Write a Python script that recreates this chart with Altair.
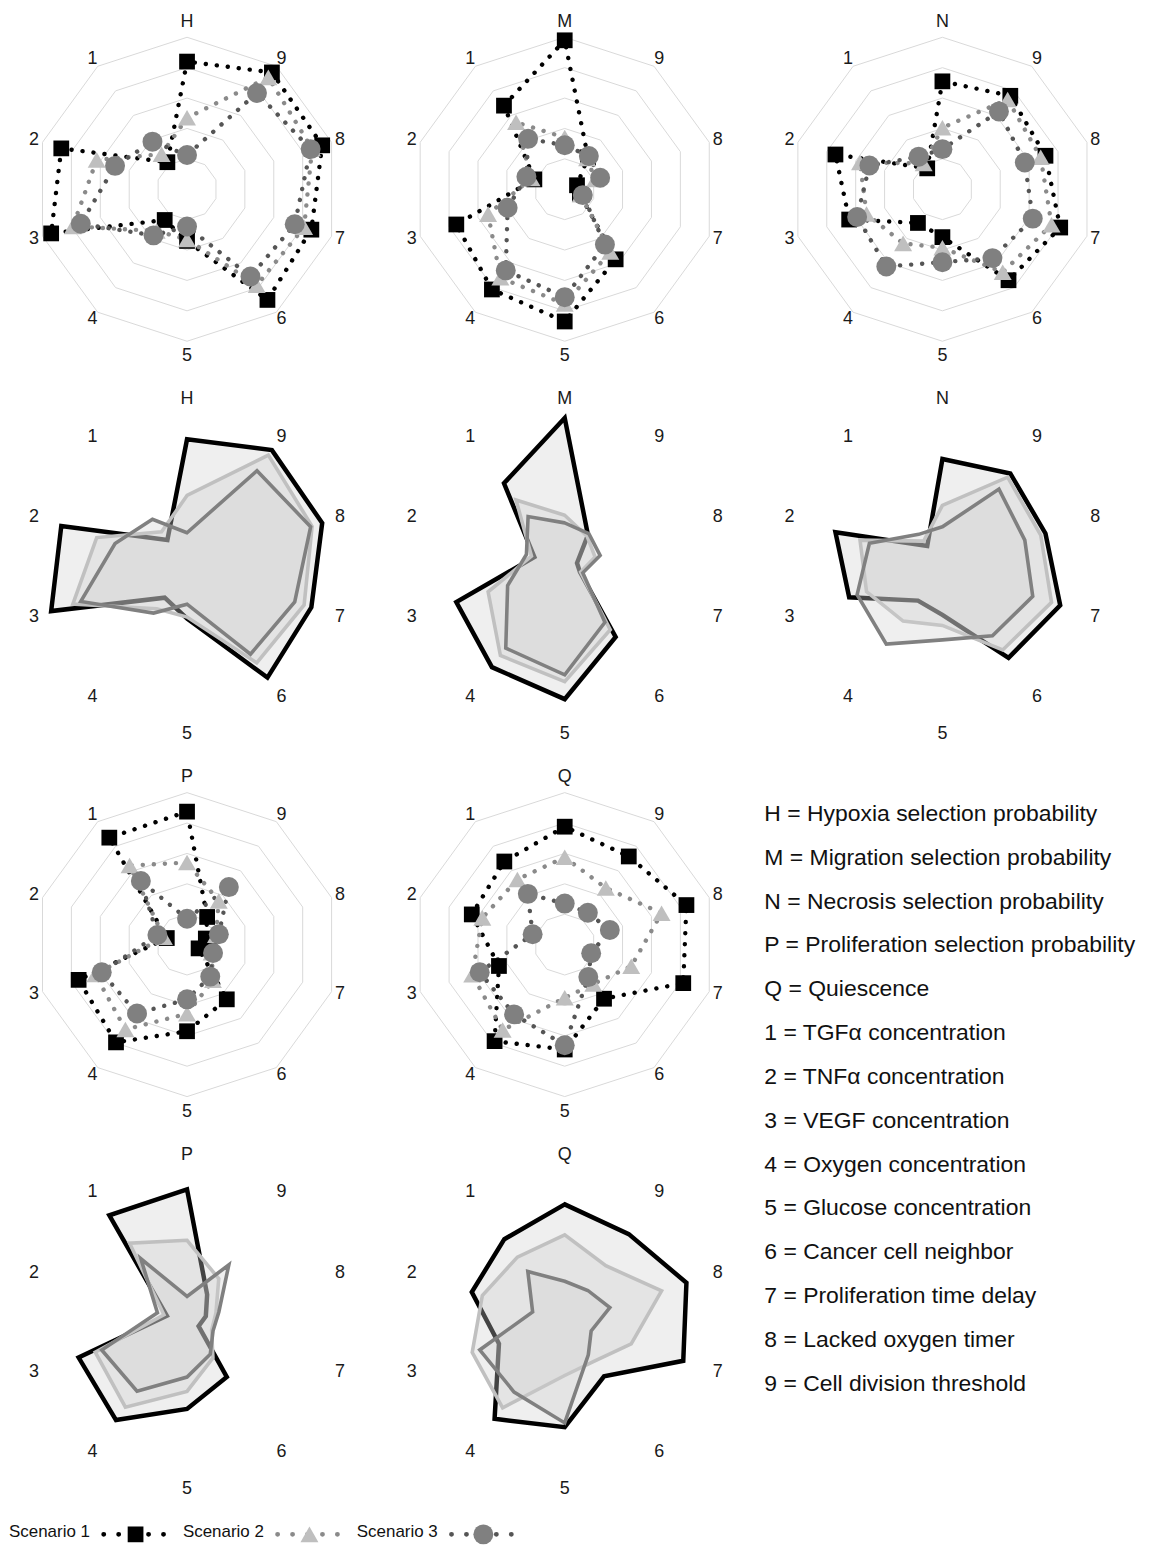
import altair as alt
import pandas as pd

# ---------------- data ----------------
PANELS = ["H", "M", "N", "P", "Q"]
SCENARIOS = [1, 2, 3]
SCEN_LABELS = ["Scenario 1", "Scenario 2", "Scenario 3"]
AXIS_NUMBERS = ["1", "2", "3", "4", "5", "6", "7", "8", "9"]
RINGS = [0.2, 0.4, 0.6, 0.8, 1.0]

# radial value (outer ring = 1); order: outcome axis (top), then parameters 1..9
H_S1 = [0.84, 0.22, 0.87, 0.94, 0.25, 0.34, 0.90, 0.86, 0.935, 0.95]
H_S2 = [0.47, 0.285, 0.625, 0.79, 0.34, 0.33, 0.78, 0.81, 0.865, 0.91]
H_S3 = [0.225, 0.387, 0.498, 0.735, 0.375, 0.245, 0.71, 0.745, 0.855, 0.783]
M_S1 = [0.98, 0.68, 0.21, 0.75, 0.815, 0.87, 0.57, 0.105, 0.085, 0.26]
M_S2 = [0.34, 0.545, 0.23, 0.53, 0.72, 0.755, 0.51, 0.11, 0.21, 0.25]
M_S3 = [0.29, 0.41, 0.265, 0.395, 0.66, 0.71, 0.45, 0.125, 0.245, 0.27]
N_S1 = [0.71, 0.17, 0.74, 0.645, 0.274, 0.315, 0.74, 0.815, 0.713, 0.76]
N_S2 = [0.405, 0.21, 0.57, 0.525, 0.44, 0.385, 0.675, 0.755, 0.68, 0.73]
N_S3 = [0.264, 0.265, 0.505, 0.59, 0.628, 0.48, 0.56, 0.625, 0.57, 0.633]
P_S1 = [0.875, 0.87, 0.14, 0.75, 0.795, 0.57, 0.445, 0.08, 0.13, 0.225]
P_S2 = [0.54, 0.643, 0.16, 0.635, 0.69, 0.455, 0.29, 0.17, 0.2, 0.355]
P_S3 = [0.17, 0.517, 0.205, 0.59, 0.56, 0.36, 0.26, 0.18, 0.22, 0.468]
Q_S1 = [0.776, 0.676, 0.643, 0.455, 0.785, 0.69, 0.44, 0.82, 0.842, 0.717]
Q_S2 = [0.575, 0.53, 0.57, 0.64, 0.695, 0.35, 0.32, 0.46, 0.67, 0.46]
Q_S3 = [0.27, 0.413, 0.222, 0.588, 0.567, 0.662, 0.264, 0.183, 0.312, 0.259]

VALUES = {
    "H": [H_S1, H_S2, H_S3],
    "M": [M_S1, M_S2, M_S3],
    "N": [N_S1, N_S2, N_S3],
    "P": [P_S1, P_S2, P_S3],
    "Q": [Q_S1, Q_S2, Q_S3],
}

LEGEND_LINES = [
    "H = Hypoxia selection probability",
    "M = Migration selection probability",
    "N = Necrosis selection probability",
    "P = Proliferation selection probability",
    "Q = Quiescence",
    "1 = TGF\u03b1 concentration",
    "2 = TNF\u03b1 concentration",
    "3 = VEGF concentration",
    "4 = Oxygen concentration",
    "5 = Glucose concentration",
    "6 = Cancer cell neighbor",
    "7 = Proliferation time delay",
    "8 = Lacked oxygen timer",
    "9 = Cell division threshold",
]

# ---------------- tables ----------------
rows = []
for p in PANELS:
    for s, vals in zip(SCENARIOS, VALUES[p]):
        for k, v in enumerate(vals):
            rows.append({"panel": p, "scen": s, "k": k, "r": v})
df = pd.DataFrame(rows)

grid_df = pd.DataFrame([{"ring": i, "k": k, "r": r} for i, r in enumerate(RINGS) for k in range(10)])

# ---------------- style ----------------
FONT = "Liberation Sans, Arial, sans-serif"
PW = 379
PH = 379
XS = alt.Scale(domain=[-1.178, 1.307], nice=False, zero=False)
YS = alt.Scale(domain=[-1.310, 1.175], nice=False, zero=False)
SC_DOM = SCENARIOS
DOT_COLORS = ["#000000", "#8a8a8a", "#555555"]
MARK_COLORS = ["#000000", "#bfbfbf", "#808080"]
LINE_COLORS = ["#000000", "#c0c0c0", "#808080"]
SHAPES = ["square", "triangle-up", "circle"]
SIZES = [250, 400, 290]


def polar(ch):
    return ch.transform_calculate(
        px="-datum.r*sin(datum.k*PI/5)",
        py="datum.r*cos(datum.k*PI/5)",
    )


def xy():
    return dict(x=alt.X("px:Q", scale=XS, axis=None),
                y=alt.Y("py:Q", scale=YS, axis=None))


def labels(p):
    lab = pd.DataFrame({"k": list(range(10)), "text": [p] + AXIS_NUMBERS})
    return polar(
        alt.Chart(lab).transform_calculate(
            r="datum.k==0?1.103:(datum.k==5?1.1:1.058)")
    ).mark_text(font=FONT, fontSize=18, color="#1a1a1a", align="center",
                baseline="middle").encode(text="text:N", **xy())


def dotted_panel(p):
    d = df[df.panel == p]
    grid = polar(alt.Chart(grid_df)).mark_line(
        interpolate="linear-closed", stroke="#d9d9d9", strokeWidth=1
    ).encode(detail="ring:N", order="k:Q", **xy())
    lines = polar(alt.Chart(d)).mark_line(
        interpolate="linear-closed", strokeDash=[0.1, 11], strokeCap="round", strokeWidth=4.4
    ).encode(
        stroke=alt.Stroke("scen:N", scale=alt.Scale(domain=SC_DOM, range=DOT_COLORS), legend=None),
        detail="scen:N", order="k:Q", **xy())
    pts = polar(alt.Chart(d)).mark_point(filled=True, opacity=1, strokeWidth=0).encode(
        fill=alt.Fill("scen:N", scale=alt.Scale(domain=SC_DOM, range=MARK_COLORS), legend=None),
        shape=alt.Shape("scen:N", scale=alt.Scale(domain=SC_DOM, range=SHAPES), legend=None),
        size=alt.Size("scen:N", scale=alt.Scale(domain=SC_DOM, range=SIZES), legend=None),
        **xy())
    return alt.layer(grid, lines, pts, labels(p)).properties(width=PW, height=PH)


def filled_panel(p):
    layers = []
    for s in SCENARIOS:
        d = df[(df.panel == p) & (df.scen == s)]
        layers.append(polar(alt.Chart(d)).mark_line(
            interpolate="linear-closed", fill="#cfcfcf", fillOpacity=0.33,
            stroke=LINE_COLORS[s - 1], strokeWidth=4.5 if s == 1 else 3.6,
            strokeJoin="miter"
        ).encode(order="k:Q", **xy()))
    layers.append(labels(p))
    return alt.layer(*layers).properties(width=PW, height=PH)


# right-hand text legend
txt_df = pd.DataFrame({"i": list(range(len(LEGEND_LINES))), "line": LEGEND_LINES})
text_panel = alt.Chart(txt_df).mark_text(
    font=FONT, fontSize=23, align="left", baseline="middle", color="#111111"
).encode(
    x=alt.value(1),
    y=alt.Y("i:Q", scale=alt.Scale(domain=[(2 * PH - 48) / 44.0, -48 / 44.0], nice=False, zero=False),
            axis=None),
    text="line:N",
).properties(width=395, height=2 * PH)

# bottom scenario legend
LX = alt.Scale(domain=[0, 760], nice=False, zero=False)
leg_df = pd.DataFrame({"i": [0, 1, 2], "scen": SCENARIOS, "label": SCEN_LABELS})
leg_line_df = pd.DataFrame({"i": [0, 0, 1, 1, 2, 2], "scen": [1, 1, 2, 2, 3, 3],
                            "end": [0, 1, 0, 1, 0, 1]})
leg_text = alt.Chart(leg_df).transform_calculate(tx="1+174.5*datum.i").mark_text(
    font=FONT, fontSize=17, align="left", baseline="middle", color="#111111"
).encode(x=alt.X("tx:Q", scale=LX, axis=None), y=alt.value(11), text="label:N")
leg_lines = alt.Chart(leg_line_df).transform_calculate(
    lx="128+174.5*datum.i+(datum.end==0?-32:29)"
).mark_line(strokeDash=[0.1, 14.9], strokeCap="round", strokeWidth=4.8).encode(
    x=alt.X("lx:Q", scale=LX, axis=None), y=alt.value(13),
    stroke=alt.Stroke("scen:N", scale=alt.Scale(domain=SC_DOM, range=DOT_COLORS), legend=None),
    detail="scen:N")
leg_pts = alt.Chart(leg_df).transform_calculate(mx="128+174.5*datum.i").mark_point(
    filled=True, opacity=1, strokeWidth=0
).encode(
    x=alt.X("mx:Q", scale=LX, axis=None), y=alt.value(13),
    fill=alt.Fill("scen:N", scale=alt.Scale(domain=SC_DOM, range=MARK_COLORS), legend=None),
    shape=alt.Shape("scen:N", scale=alt.Scale(domain=SC_DOM, range=SHAPES), legend=None),
    size=alt.Size("scen:N", scale=alt.Scale(domain=SC_DOM, range=[250, 360, 290]), legend=None))
bottom_legend = alt.layer(leg_lines, leg_pts, leg_text).properties(width=760, height=22)

row1 = alt.hconcat(dotted_panel("H"), dotted_panel("M"), dotted_panel("N"), spacing=0)
row2 = alt.hconcat(filled_panel("H"), filled_panel("M"), filled_panel("N"), spacing=0)
row3 = alt.hconcat(dotted_panel("P"), dotted_panel("Q"), spacing=0)
row4 = alt.hconcat(filled_panel("P"), filled_panel("Q"), spacing=0)
lower = alt.hconcat(alt.vconcat(row3, row4, spacing=0), text_panel, spacing=0)

chart = alt.vconcat(row1, row2, lower, bottom_legend, spacing=0).properties(
    padding=0
).configure_view(stroke=None)

chart.save("out.html", embed_options={"renderer": "svg", "actions": False})
